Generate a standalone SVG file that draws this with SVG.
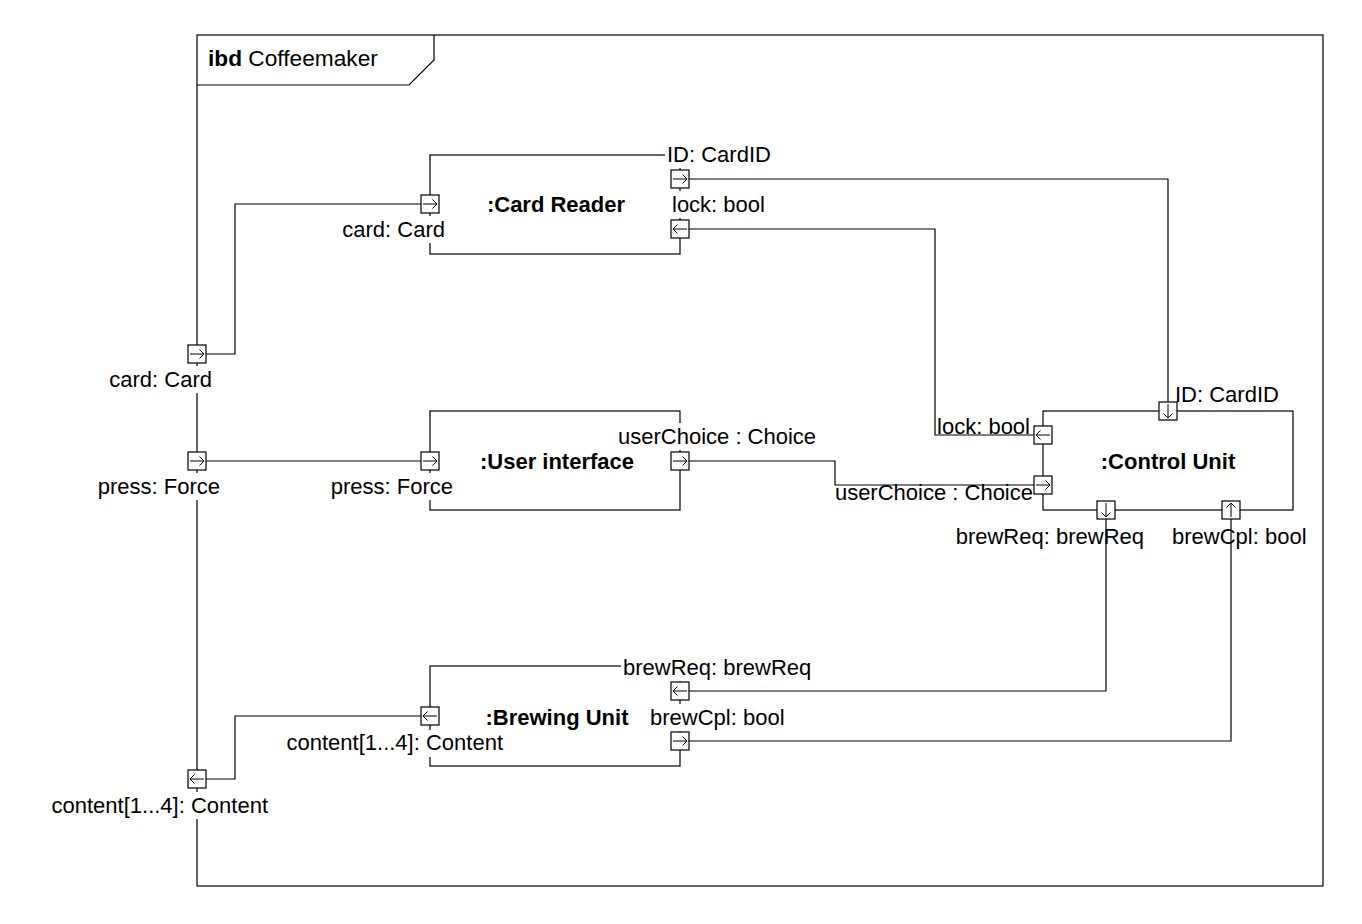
<svg xmlns="http://www.w3.org/2000/svg" xmlns:xlink="http://www.w3.org/1999/xlink" width="1362" height="924" viewBox="0 0 1362 924">
<style>
.ln{fill:none;stroke:#000;stroke-width:1.2}
.box{fill:none;stroke:#000;stroke-width:1.2}
.bg{fill:#fff;stroke:none}
.t{font-family:"Liberation Sans",Arial,sans-serif;font-size:22px;fill:#000}
.b{font-weight:bold}
.e{text-anchor:end}
.m{text-anchor:middle}
</style>
<defs>
<g id="pr"><rect x="-9" y="-9" width="18" height="18" fill="#fff" stroke="#000" stroke-width="1.2"/><path d="M-7,0H7M2.5,-4.5L7,0L2.5,4.5" fill="none" stroke="#000" stroke-width="1"/></g>
<g id="pl"><rect x="-9" y="-9" width="18" height="18" fill="#fff" stroke="#000" stroke-width="1.2"/><path d="M7,0H-7M-2.5,-4.5L-7,0L-2.5,4.5" fill="none" stroke="#000" stroke-width="1"/></g>
<g id="pd"><rect x="-9" y="-9" width="18" height="18" fill="#fff" stroke="#000" stroke-width="1.2"/><path d="M0,-7V7M-4.5,2.5L0,7L4.5,2.5" fill="none" stroke="#000" stroke-width="1"/></g>
<g id="pu"><rect x="-9" y="-9" width="18" height="18" fill="#fff" stroke="#000" stroke-width="1.2"/><path d="M0,7V-7M-4.5,-2.5L0,-7L4.5,-2.5" fill="none" stroke="#000" stroke-width="1"/></g>
</defs>
<rect x="0" y="0" width="1362" height="924" fill="#fff"/>

<g id="frame">
<rect class="box" x="197" y="35" width="1126" height="851"/>
<path class="ln" d="M197,85H409L434,60V35"/>
<text class="t" x="208" y="66" style="font-size:22.7px"><tspan class="b">ibd</tspan> Coffeemaker</text>
<rect class="bg" x="106" y="366" width="108" height="27"/>
<text class="t e" x="212" y="387">card: Card</text>
<rect class="bg" x="96" y="473" width="126" height="27"/>
<text class="t e" x="220" y="494">press: Force</text>
<rect class="bg" x="48" y="792" width="222" height="27"/>
<text class="t e" x="268" y="813">content[1...4]: Content</text>
<use href="#pr" x="197" y="354"/>
<use href="#pr" x="197" y="461"/>
<use href="#pl" x="197" y="779"/>
</g>

<g id="cardReader">
<rect class="box" x="430" y="155" width="250" height="99"/>
<text class="t b m" x="556" y="212">:Card Reader</text>
<rect class="bg" x="665" y="141" width="110" height="27"/>
<text class="t" x="667" y="162">ID: CardID</text>
<rect class="bg" x="670" y="191" width="100" height="27"/>
<text class="t" x="672" y="212">lock: bool</text>
<rect class="bg" x="339" y="216" width="108" height="27"/>
<text class="t e" x="445" y="237">card: Card</text>
<use href="#pr" x="430" y="204"/>
<use href="#pr" x="680" y="179"/>
<use href="#pl" x="680" y="229"/>
</g>

<g id="userInterface">
<rect class="box" x="430" y="411" width="250" height="99"/>
<text class="t b m" x="557" y="469">:User interface</text>
<rect class="bg" x="616" y="423" width="204" height="27"/>
<text class="t" x="618" y="444">userChoice : Choice</text>
<rect class="bg" x="330" y="473" width="125" height="27"/>
<text class="t e" x="453" y="494">press: Force</text>
<use href="#pr" x="430" y="461"/>
<use href="#pr" x="680" y="461"/>
</g>

<g id="brewingUnit">
<rect class="box" x="430" y="666" width="250" height="100"/>
<text class="t b m" x="557" y="725">:Brewing Unit</text>
<rect class="bg" x="621" y="654" width="194" height="27"/>
<text class="t" x="623" y="675">brewReq: brewReq</text>
<rect class="bg" x="648" y="704" width="142" height="27"/>
<text class="t" x="650" y="725">brewCpl: bool</text>
<rect class="bg" x="282" y="730" width="223" height="27"/>
<text class="t e" x="503" y="750">content[1...4]: Content</text>
<use href="#pl" x="430" y="716"/>
<use href="#pl" x="680" y="691"/>
<use href="#pr" x="680" y="741"/>
</g>

<g id="controlUnit">
<rect class="box" x="1043" y="411" width="250" height="99"/>
<text class="t b m" x="1168" y="469">:Control Unit</text>
<rect class="bg" x="1173" y="381" width="110" height="27"/>
<text class="t" x="1175" y="402">ID: CardID</text>
<rect class="bg" x="933" y="413" width="99" height="24"/>
<text class="t e" x="1030" y="434">lock: bool</text>
<rect class="bg" x="833" y="487" width="202" height="22"/>
<text class="t e" x="1033" y="500">userChoice : Choice</text>
<text class="t e" x="1144" y="544">brewReq: brewReq</text>
<text class="t" x="1172" y="544">brewCpl: bool</text>
<use href="#pd" x="1168" y="411"/>
<use href="#pl" x="1043" y="435"/>
<use href="#pr" x="1043" y="485"/>
<use href="#pd" x="1106" y="510"/>
<use href="#pu" x="1231" y="510"/>
</g>

<g id="connectors">
<path class="ln" d="M206,354H235V204H421"/>
<path class="ln" d="M206,461H421"/>
<path class="ln" d="M206,779H235V716H421"/>
<path class="ln" d="M689,179H1168V402"/>
<path class="ln" d="M689,229H935V435H1034"/>
<path class="ln" d="M689,461H835V485H1034"/>
<path class="ln" d="M1106,519V691H689"/>
<path class="ln" d="M689,741H1231V519"/>
</g>
</svg>
